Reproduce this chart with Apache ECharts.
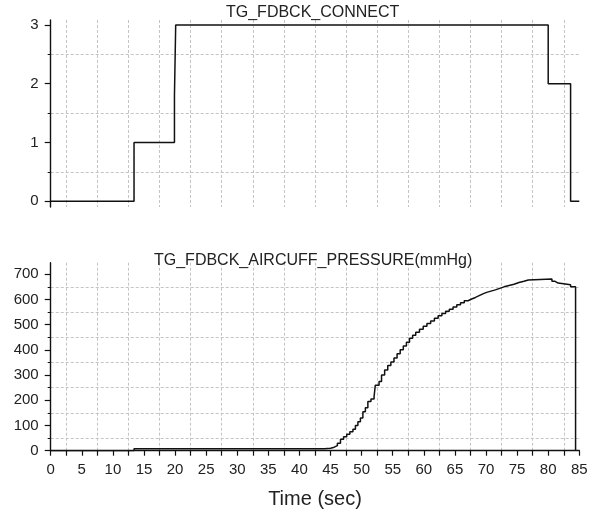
<!DOCTYPE html>
<html>
<head>
<meta charset="utf-8">
<script src="https://cdn.jsdelivr.net/npm/echarts@6.0.0/dist/echarts.min.js"></script>
<style>
  html, body { margin: 0; padding: 0; background: #fff; }
  #main { width: 594px; height: 512px; }
</style>
</head>
<body>
<div id="main"></div>
<script>
// TG_FDBCK_CONNECT - step signal (sec, state)
const connectTime  = [0, 13.4, 19.9, 20.1, 80.0, 83.6, 85];
const connectValue = [0, 1, 1.8, 3, 2, 0, 0];

// TG_FDBCK_AIRCUFF_PRESSURE - step signal (sec, mmHg)
const pressureTime = [0, 13.4, 44.0, 45.0, 45.6, 46.1, 46.6, 47.1, 47.6, 48.1, 48.6, 49.0, 49.4, 49.8,
  50.2, 50.6, 51.0, 51.5, 52.0, 52.2, 52.8, 53.2, 53.7, 54.2, 54.7, 55.2, 55.7, 56.2, 56.7, 57.2, 57.7,
  58.2, 58.7, 59.3, 59.9, 60.5, 61.1, 61.7, 62.3, 62.9, 63.5, 64.1, 64.7, 65.3, 65.9, 66.5, 67.1, 67.7,
  68.3, 68.9, 69.5, 70.1, 70.8, 71.5, 72.2, 72.9, 73.7, 74.5, 75.3, 76.1, 76.8, 80.6, 81.1, 81.6, 83.6, 84.4];
const pressureValue = [0, 8, 10, 14, 20, 30, 45, 55, 65, 75, 85, 100, 115, 130,
  155, 170, 195, 205, 215, 260, 275, 300, 320, 338, 352, 368, 385, 400, 415, 430, 446,
  458, 470, 482, 494, 505, 515, 525, 535, 544, 553, 561, 570, 579, 587, 595, 602, 608,
  615, 622, 628, 633, 638, 644, 650, 655, 660, 667, 672, 677, 681, 672, 665, 658, 650, 0];

// tick values
const connectTicks  = [0, 1, 2, 3];
const connectMinor  = [0.5, 1.5, 2.5];
const pressureTicks = [0, 100, 200, 300, 400, 500, 600, 700];
const pressureMinor = [50, 150, 250, 350, 450, 550, 650];

const FONT = 'Liberation Sans, Arial, sans-serif';
const gridLine = { show: true, lineStyle: { color: '#c4c4c4', width: 1, type: [3, 2] } };
const blackLine = { color: '#111', width: 1.4 };

function majorY(grid, min, max, ticks) {
  return {
    type: 'value', gridIndex: grid, position: 'left', min: min, max: max,
    axisLine: { show: true, onZero: false, lineStyle: blackLine },
    axisTick: { show: true, customValues: ticks, length: 6, lineStyle: { color: '#111', width: 1.2 } },
    axisLabel: { customValues: ticks, fontSize: 15, color: '#222', fontFamily: FONT, margin: 12 },
    splitLine: { show: false }
  };
}
// second axis on the same grid: minor ticks + dotted grid lines
function minorY(grid, min, max, ticks) {
  return {
    type: 'value', gridIndex: grid, position: 'left', min: min, max: max,
    axisLine: { show: false, onZero: false },
    axisTick: { show: true, customValues: ticks, length: 3, lineStyle: { color: '#111', width: 1 } },
    axisLabel: { show: false },
    splitLine: gridLine
  };
}

const myChart = echarts.init(document.getElementById('main'));

let option = {
  backgroundColor: '#fff',
  animation: false,
  title: [
    { text: 'TG_FDBCK_CONNECT', left: 226, top: 5, padding: 0,
      textStyle: { fontSize: 16, fontWeight: 'normal', color: '#222', fontFamily: FONT } },
    { text: 'TG_FDBCK_AIRCUFF_PRESSURE(mmHg)', left: 154, top: 253, padding: 0,
      textStyle: { fontSize: 16, fontWeight: 'normal', color: '#222', fontFamily: FONT } }
  ],
  grid: [
    { left: 50.7, right: 14.7, top: 20, height: 187, outerBoundsMode: 'none' },
    { left: 50.7, right: 14.7, top: 262.7, height: 188, outerBoundsMode: 'none' }
  ],
  xAxis: [
    {
      type: 'value', gridIndex: 0, min: 0, max: 85, interval: 5,
      axisLine: { show: false, onZero: false },
      axisTick: { show: false },
      axisLabel: { show: false },
      splitLine: { show: false },
      minorTick: { show: false, splitNumber: 2 },
      minorSplitLine: gridLine
    },
    {
      type: 'value', gridIndex: 1, min: 0, max: 85, interval: 5,
      axisLine: { show: true, onZero: false, lineStyle: blackLine },
      axisTick: { show: true, length: 5, lineStyle: { color: '#111', width: 1.2 } },
      minorTick: { show: true, splitNumber: 2, length: 5, lineStyle: { color: '#111', width: 1.2 } },
      axisLabel: { fontSize: 15, color: '#222', fontFamily: FONT, margin: 12 },
      splitLine: { show: false },
      minorSplitLine: gridLine,
      name: 'Time (sec)', nameLocation: 'middle', nameGap: 39,
      nameTextStyle: { fontSize: 20, color: '#222', fontFamily: FONT }
    }
  ],
  yAxis: [
    majorY(0, -0.1, 3.085, connectTicks),
    minorY(0, -0.1, 3.085, connectMinor),
    majorY(1, 0, 745.8, pressureTicks),
    minorY(1, 0, 745.8, pressureMinor)
  ],
  series: [
    {
      name: 'TG_FDBCK_CONNECT', type: 'line', step: 'end',
      xAxisIndex: 0, yAxisIndex: 0, showSymbol: false,
      lineStyle: { color: '#111', width: 1.5 },
      data: connectTime.map((t, i) => [t, connectValue[i]])
    },
    {
      name: 'TG_FDBCK_AIRCUFF_PRESSURE', type: 'line', step: 'end',
      xAxisIndex: 1, yAxisIndex: 2, showSymbol: false,
      lineStyle: { color: '#111', width: 1.5 },
      data: pressureTime.map((t, i) => [t, pressureValue[i]])
    }
  ]
};

option && myChart.setOption(option);
</script>
</body>
</html>
